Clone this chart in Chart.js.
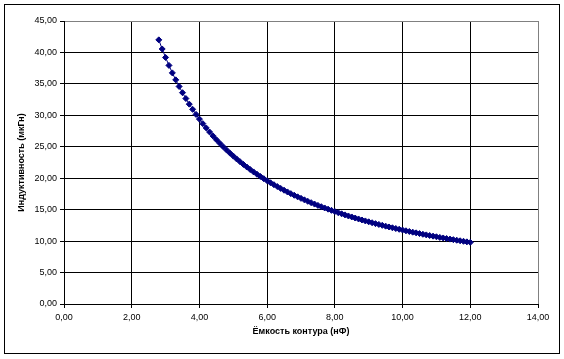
<!DOCTYPE html>
<html>
<head>
<meta charset="utf-8">
<script src="https://cdn.jsdelivr.net/npm/chart.js@4.4.1/dist/chart.umd.min.js"></script>
<style>
  html, body { margin: 0; padding: 0; background: #fff; }
  #wrap { width: 564px; height: 359px; position: relative; }
</style>
</head>
<body>
<div id="wrap"><canvas id="chart" width="564" height="359"></canvas></div>
<script>
// capacitance (nF) and inductance (uH)
const capacitance = [
  2.8, 2.9, 3.0, 3.1, 3.2, 3.3, 3.4, 3.5, 3.6, 3.7, 3.8, 3.9,
  4.0, 4.1, 4.2, 4.3, 4.4, 4.5, 4.6, 4.7, 4.8, 4.9,
  5.0, 5.1, 5.2, 5.3, 5.4, 5.5, 5.6, 5.7, 5.8, 5.9,
  6.0, 6.1, 6.2, 6.3, 6.4, 6.5, 6.6, 6.7, 6.8, 6.9,
  7.0, 7.1, 7.2, 7.3, 7.4, 7.5, 7.6, 7.7, 7.8, 7.9,
  8.0, 8.1, 8.2, 8.3, 8.4, 8.5, 8.6, 8.7, 8.8, 8.9,
  9.0, 9.1, 9.2, 9.3, 9.4, 9.5, 9.6, 9.7, 9.8, 9.9,
  10.0, 10.1, 10.2, 10.3, 10.4, 10.5, 10.6, 10.7, 10.8, 10.9,
  11.0, 11.1, 11.2, 11.3, 11.4, 11.5, 11.6, 11.7, 11.8, 11.9,
  12.0
];
const inductance = [
  42.00, 40.55, 39.20, 37.94, 36.75, 35.64, 34.59, 33.60, 32.67, 31.78, 30.95, 30.15,
  29.40, 28.68, 28.00, 27.35, 26.73, 26.13, 25.57, 25.02, 24.50, 24.00,
  23.52, 23.06, 22.62, 22.19, 21.78, 21.38, 21.00, 20.63, 20.28, 19.93,
  19.60, 19.28, 18.97, 18.67, 18.38, 18.09, 17.82, 17.55, 17.29, 17.04,
  16.80, 16.56, 16.33, 16.11, 15.89, 15.68, 15.47, 15.27, 15.08, 14.89,
  14.70, 14.52, 14.34, 14.17, 14.00, 13.84, 13.67, 13.52, 13.36, 13.21,
  13.07, 12.92, 12.78, 12.65, 12.51, 12.38, 12.25, 12.12, 12.00, 11.88,
  11.76, 11.64, 11.53, 11.42, 11.31, 11.20, 11.09, 10.99, 10.89, 10.79,
  10.69, 10.59, 10.50, 10.41, 10.32, 10.23, 10.14, 10.05, 9.97, 9.88,
  9.80
];
const xTitle = 'Ёмкость контура (нФ)';
const yTitle = 'Индуктивность (мкГн)';

const points = capacitance.map((c, i) => ({ x: c, y: inductance[i] }));
const fontFamily = 'Arial, "Liberation Sans", sans-serif';

function commaFmt(v) {
  return Number(v).toFixed(2).replace('.', ',');
}

// white background plus the outer black frame
const frame = {
  id: 'frame',
  beforeDraw(chart) {
    const c = chart.ctx;
    c.save();
    c.fillStyle = '#fff';
    c.fillRect(0, 0, chart.width, chart.height);
    c.strokeStyle = '#000';
    c.lineWidth = 1;
    c.strokeRect(4.5, 4.5, 555, 349);
    c.restore();
  }
};

new Chart(document.getElementById('chart'), {
  type: 'scatter',
  data: {
    datasets: [{
      data: points,
      showLine: true,
      borderColor: '#000080',
      backgroundColor: '#000080',
      borderWidth: 1,
      pointStyle: 'rectRot',
      pointRadius: 3,
      pointBorderWidth: 1,
      pointBorderColor: '#000080',
      pointBackgroundColor: '#000080'
    }]
  },
  options: {
    responsive: false,
    animation: false,
    events: [],
    layout: { padding: { left: 0, right: 26, top: 21, bottom: 0 } },
    plugins: {
      legend: { display: false },
      tooltip: { enabled: false }
    },
    scales: {
      x: {
        type: 'linear',
        min: 0,
        max: 14,
        afterFit(scale) { scale.height = 55; },
        ticks: {
          stepSize: 2,
          padding: 4,
          color: '#000',
          font: { family: fontFamily, size: 9 },
          maxRotation: 0,
          callback: v => commaFmt(v)
        },
        grid: {
          color: ctx => (ctx.tick && ctx.tick.value === 14) ? '#808080' : '#000',
          tickColor: '#000',
          tickLength: 4,
          lineWidth: 1
        },
        border: { color: '#000', width: 1 },
        title: {
          display: true,
          text: xTitle,
          color: '#000',
          font: { family: fontFamily, size: 9, weight: 'bold' },
          padding: { top: 0, bottom: 22 }
        }
      },
      y: {
        type: 'linear',
        min: 0,
        max: 45,
        afterFit(scale) { scale.width = 64; },
        ticks: {
          stepSize: 5,
          padding: 3,
          color: '#000',
          font: { family: fontFamily, size: 9 },
          callback: v => commaFmt(v)
        },
        grid: {
          color: ctx => (ctx.tick && ctx.tick.value === 45) ? '#808080' : '#000',
          tickColor: '#000',
          tickLength: 4,
          lineWidth: 1
        },
        border: { color: '#000', width: 1 },
        title: {
          display: true,
          text: yTitle,
          color: '#000',
          font: { family: fontFamily, size: 9, weight: 'bold' },
          padding: { top: 16, bottom: 0 }
        }
      }
    }
  },
  plugins: [frame]
});
</script>
</body>
</html>
